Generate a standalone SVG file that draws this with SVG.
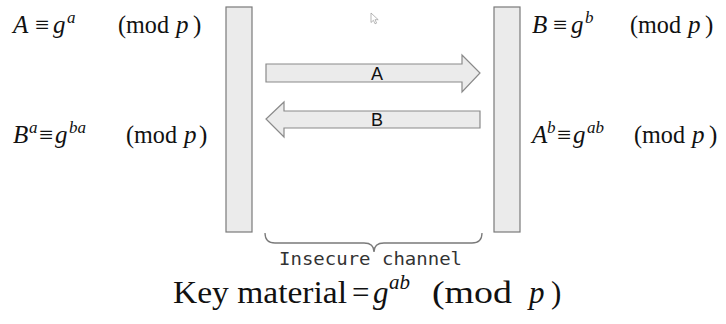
<svg xmlns="http://www.w3.org/2000/svg" width="726" height="324" viewBox="0 0 726 324">
<style>
  .m { font-family: "Liberation Serif", "DejaVu Serif", serif; font-size: 25px; fill: #111; }
  .i { font-style: italic; }
  .sup { font-family: "Liberation Serif", "DejaVu Serif", serif; font-style: italic; font-size: 17px; fill: #111; }
  .big { font-size: 31px; }
  .bar { fill: #ebebeb; stroke: #7a7a7a; stroke-width: 1.2; }
  .arrow { fill: #ebebeb; stroke: #8a8a8a; stroke-width: 1.2; }
  .lbl { font-family: "Liberation Sans", Arial, sans-serif; font-size: 18px; fill: #111; text-anchor: middle; }
  .mono { font-family: "DejaVu Sans Mono", "Liberation Mono", monospace; font-size: 18px; fill: #333; }
  .brace { fill: none; stroke: #7a7a7a; stroke-width: 1.3; }
</style>
<rect width="726" height="324" fill="#ffffff"/>

<g id="alice-eq1">
  <text class="m i" x="13" y="33">A</text>
  <text class="m" x="35" y="33">≡</text>
  <text class="m i" x="53" y="33">g</text>
  <text class="sup" x="67" y="23">a</text>
  <text class="m" x="118" y="33" textLength="51" lengthAdjust="spacingAndGlyphs">(mod</text>
  <text class="m i" x="176" y="33">p</text>
  <text class="m" x="193" y="33">)</text>
</g>
<g id="alice-eq2">
  <text class="m i" x="13" y="143">B</text>
  <text class="sup" x="29" y="133">a</text>
  <text class="m" x="39" y="143">≡</text>
  <text class="m i" x="55" y="143">g</text>
  <text class="sup" x="69" y="133">ba</text>
  <text class="m" x="126" y="143" textLength="51" lengthAdjust="spacingAndGlyphs">(mod</text>
  <text class="m i" x="184" y="143">p</text>
  <text class="m" x="199" y="143">)</text>
</g>
<g id="bob-eq1">
  <text class="m i" x="532" y="33">B</text>
  <text class="m" x="553" y="33">≡</text>
  <text class="m i" x="571" y="33">g</text>
  <text class="sup" x="585" y="23">b</text>
  <text class="m" x="630" y="33" textLength="51" lengthAdjust="spacingAndGlyphs">(mod</text>
  <text class="m i" x="688" y="33">p</text>
  <text class="m" x="705" y="33">)</text>
</g>
<g id="bob-eq2">
  <text class="m i" x="532" y="143">A</text>
  <text class="sup" x="547" y="133">b</text>
  <text class="m" x="557" y="143">≡</text>
  <text class="m i" x="573" y="143">g</text>
  <text class="sup" x="587" y="133">ab</text>
  <text class="m" x="634" y="143" textLength="51" lengthAdjust="spacingAndGlyphs">(mod</text>
  <text class="m i" x="692" y="143">p</text>
  <text class="m" x="709" y="143">)</text>
</g>

<g id="alice-bar"><rect class="bar" x="226" y="7" width="26" height="225"/></g>
<g id="bob-bar"><rect class="bar" x="494" y="7" width="26" height="225"/></g>

<g id="connectors">
  <g id="arrow-A">
    <polygon class="arrow" points="266,64 462,64 462,55 480,73 462,92 462,82 266,82"/>
    <text class="lbl" x="377" y="80">A</text>
  </g>
  <g id="arrow-B">
    <polygon class="arrow" points="480,111 284,111 284,102 266,119 284,137 284,128 480,128"/>
    <text class="lbl" x="377" y="126">B</text>
  </g>
</g>

<g id="cursor">
  <polygon points="371,13 371,22.5 373.4,20.3 375,23.8 376.6,23.1 375,19.7 378.2,19.7" fill="#ffffff" stroke="#9a9a9a" stroke-width="0.7"/>
</g>

<g id="channel">
  <path class="brace" d="M265,233 Q265,243 275,243 L364,243 Q374,243 374,252 Q374,243 384,243 L472,243 Q482,243 482,233"/>
  <text class="mono" x="279" y="265" textLength="183" lengthAdjust="spacingAndGlyphs">Insecure channel</text>
</g>

<g id="key-material">
  <text class="m big" x="173" y="303" textLength="174" lengthAdjust="spacingAndGlyphs">Key material</text>
  <text class="m big" x="352" y="303">=</text>
  <text class="m i big" x="373" y="303">g</text>
  <text class="sup" style="font-size:21px" x="389" y="289">ab</text>
  <text class="m big" x="432" y="303" textLength="80" lengthAdjust="spacingAndGlyphs">(mod</text>
  <text class="m i big" x="529" y="303">p</text>
  <text class="m big" x="551" y="303">)</text>
</g>
</svg>
